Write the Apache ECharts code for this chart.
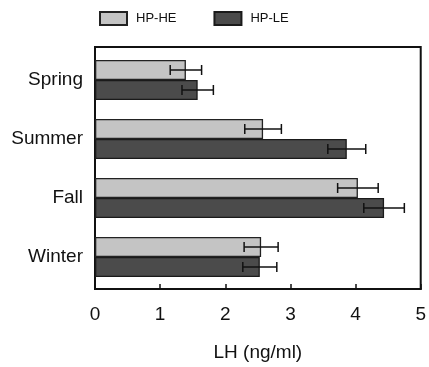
<!DOCTYPE html>
<html><head><meta charset="utf-8">
<script src="https://cdn.jsdelivr.net/npm/echarts@6/dist/echarts.min.js"></script>
<style>html,body{margin:0;padding:0;background:#fff}#c{width:429px;height:367px}</style>
</head><body><div id="c"></div>
<script>
const categories = ['Spring', 'Summer', 'Fall', 'Winter'];
const seriesNames = ['HP-HE', 'HP-LE'];
const heMean = [1.39, 2.57, 4.02, 2.54];
const heSE = [0.24, 0.28, 0.31, 0.26];
const leMean = [1.57, 3.85, 4.42, 2.52];
const leSE = [0.24, 0.29, 0.31, 0.26];
const xTicks = [0, 1, 2, 3, 4, 5];

const FONT = 'Liberation Sans, Arial, sans-serif';
const BAR_W = 20;
const chart = echarts.init(document.getElementById('c'), null, {renderer: 'canvas'});

function errData(mean, se) {
  return mean.map((m, i) => [i, m - se[i], m + se[i]]);
}
function errSeries(name, mean, se, off) {
  return {
    type: 'custom', name: name + ' err', xAxisIndex: 1, yAxisIndex: 1, z: 5,
    encode: {x: [1, 2], y: 0},
    data: errData(mean, se),
    renderItem: function (params, api) {
      const c = api.value(0);
      const p1 = api.coord([api.value(1), c]);
      const p2 = api.coord([api.value(2), c]);
      const y = p1[1] + off;
      const cap = 5;
      const st = {stroke: '#111', lineWidth: 1.5};
      return {type: 'group', children: [
        {type: 'line', shape: {x1: p1[0], y1: y, x2: p2[0], y2: y}, style: st},
        {type: 'line', shape: {x1: p1[0], y1: y - cap, x2: p1[0], y2: y + cap}, style: st},
        {type: 'line', shape: {x1: p2[0], y1: y - cap, x2: p2[0], y2: y + cap}, style: st}
      ]};
    }
  };
}

chart.setOption({
  animation: false,
  backgroundColor: '#fff',
  textStyle: {fontFamily: FONT},
  legend: {
    data: seriesNames, left: 99, top: 11, padding: 0, itemWidth: 27, itemHeight: 13, itemGap: 37,
    textStyle: {fontFamily: FONT, fontSize: 13, color: '#111', padding: [0, 0, 0, 4]},
    icon: 'rect'
  },
  grid: [
    {left: 95, right: 7, top: 47, bottom: 73, show: true, borderColor: '#111', borderWidth: 2, backgroundColor: 'transparent'},
    {left: 95, right: 7, top: 50.5, height: 236}
  ],
  xAxis: [
    {type: 'value', gridIndex: 0, min: xTicks[0], max: xTicks[xTicks.length - 1], interval: 1,
     axisLine: {show: true, lineStyle: {color: '#111', width: 2}},
     axisTick: {show: true, inside: true, length: 5, lineStyle: {color: '#111', width: 1.5}},
     axisLabel: {fontFamily: FONT, fontSize: 19, color: '#111', margin: 16},
     splitLine: {show: false},
     name: 'LH (ng/ml)', nameLocation: 'middle', nameGap: 54,
     nameTextStyle: {fontFamily: FONT, fontSize: 19, color: '#111'}},
    {type: 'value', gridIndex: 1, min: xTicks[0], max: xTicks[xTicks.length - 1], show: false}
  ],
  yAxis: [
    {type: 'value', gridIndex: 0, min: 0, max: 1, show: false},
    {type: 'category', gridIndex: 1, data: categories, inverse: true,
     axisLine: {show: false}, axisTick: {show: false},
     axisLabel: {fontFamily: FONT, fontSize: 19, color: '#111', margin: 12}}
  ],
  series: [
    {type: 'bar', name: seriesNames[0], xAxisIndex: 1, yAxisIndex: 1, data: heMean,
     barWidth: BAR_W, barGap: '0%',
     itemStyle: {color: '#c4c4c4', borderColor: '#222', borderWidth: 1.3}},
    {type: 'bar', name: seriesNames[1], xAxisIndex: 1, yAxisIndex: 1, data: leMean,
     barWidth: BAR_W, barGap: '0%',
     itemStyle: {color: '#4b4b4b', borderColor: '#1a1a1a', borderWidth: 1.3}},
    errSeries(seriesNames[0], heMean, heSE, -BAR_W / 2),
    errSeries(seriesNames[1], leMean, leSE, BAR_W / 2)
  ]
});
</script></body></html>
